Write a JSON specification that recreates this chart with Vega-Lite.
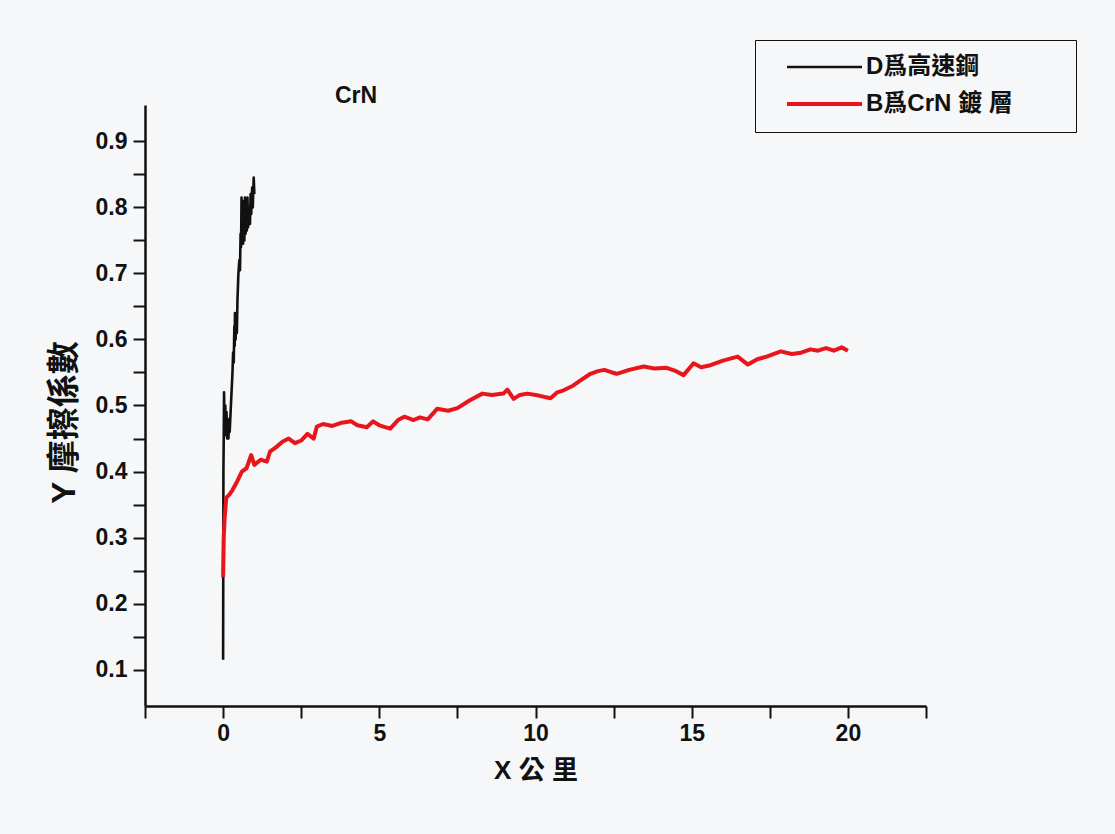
{
  "$schema": "https://vega.github.io/schema/vega-lite/v6.json",
  "width": 781,
  "height": 601,
  "autosize": {"type": "none"},
  "padding": {"left": 145, "top": 105, "right": 189, "bottom": 128},
  "background": "#f6f7f9",
  "title": {
    "text": "CrN",
    "anchor": "start",
    "frame": "group",
    "dx": 190,
    "dy": 72,
    "offset": 4,
    "font": "Liberation Sans",
    "fontSize": 23,
    "fontWeight": "bold",
    "color": "#111111"
  },
  "config": {
    "view": {"stroke": null},
    "font": "Liberation Sans"
  },
  "datasets": {
    "d": [
      {"x": 0.0, "y": 0.115, "series": "D爲高速鋼"},
      {"x": 0.005, "y": 0.25, "series": "D爲高速鋼"},
      {"x": 0.01, "y": 0.40, "series": "D爲高速鋼"},
      {"x": 0.02, "y": 0.45, "series": "D爲高速鋼"},
      {"x": 0.03, "y": 0.52, "series": "D爲高速鋼"},
      {"x": 0.05, "y": 0.46, "series": "D爲高速鋼"},
      {"x": 0.07, "y": 0.50, "series": "D爲高速鋼"},
      {"x": 0.09, "y": 0.455, "series": "D爲高速鋼"},
      {"x": 0.11, "y": 0.49, "series": "D爲高速鋼"},
      {"x": 0.13, "y": 0.45, "series": "D爲高速鋼"},
      {"x": 0.15, "y": 0.48, "series": "D爲高速鋼"},
      {"x": 0.17, "y": 0.45, "series": "D爲高速鋼"},
      {"x": 0.19, "y": 0.47, "series": "D爲高速鋼"},
      {"x": 0.21, "y": 0.46, "series": "D爲高速鋼"},
      {"x": 0.24, "y": 0.49, "series": "D爲高速鋼"},
      {"x": 0.27, "y": 0.52, "series": "D爲高速鋼"},
      {"x": 0.30, "y": 0.55, "series": "D爲高速鋼"},
      {"x": 0.32, "y": 0.58, "series": "D爲高速鋼"},
      {"x": 0.34, "y": 0.565, "series": "D爲高速鋼"},
      {"x": 0.36, "y": 0.62, "series": "D爲高速鋼"},
      {"x": 0.37, "y": 0.59, "series": "D爲高速鋼"},
      {"x": 0.38, "y": 0.64, "series": "D爲高速鋼"},
      {"x": 0.40, "y": 0.60, "series": "D爲高速鋼"},
      {"x": 0.42, "y": 0.635, "series": "D爲高速鋼"},
      {"x": 0.44, "y": 0.61, "series": "D爲高速鋼"},
      {"x": 0.46, "y": 0.66, "series": "D爲高速鋼"},
      {"x": 0.49, "y": 0.70, "series": "D爲高速鋼"},
      {"x": 0.52, "y": 0.72, "series": "D爲高速鋼"},
      {"x": 0.54, "y": 0.705, "series": "D爲高速鋼"},
      {"x": 0.56, "y": 0.76, "series": "D爲高速鋼"},
      {"x": 0.575, "y": 0.74, "series": "D爲高速鋼"},
      {"x": 0.59, "y": 0.815, "series": "D爲高速鋼"},
      {"x": 0.60, "y": 0.75, "series": "D爲高速鋼"},
      {"x": 0.62, "y": 0.81, "series": "D爲高速鋼"},
      {"x": 0.64, "y": 0.745, "series": "D爲高速鋼"},
      {"x": 0.66, "y": 0.80, "series": "D爲高速鋼"},
      {"x": 0.68, "y": 0.75, "series": "D爲高速鋼"},
      {"x": 0.70, "y": 0.815, "series": "D爲高速鋼"},
      {"x": 0.72, "y": 0.76, "series": "D爲高速鋼"},
      {"x": 0.74, "y": 0.80, "series": "D爲高速鋼"},
      {"x": 0.76, "y": 0.765, "series": "D爲高速鋼"},
      {"x": 0.78, "y": 0.815, "series": "D爲高速鋼"},
      {"x": 0.80, "y": 0.77, "series": "D爲高速鋼"},
      {"x": 0.83, "y": 0.80, "series": "D爲高速鋼"},
      {"x": 0.86, "y": 0.775, "series": "D爲高速鋼"},
      {"x": 0.88, "y": 0.82, "series": "D爲高速鋼"},
      {"x": 0.90, "y": 0.79, "series": "D爲高速鋼"},
      {"x": 0.93, "y": 0.83, "series": "D爲高速鋼"},
      {"x": 0.95, "y": 0.80, "series": "D爲高速鋼"},
      {"x": 0.98, "y": 0.845, "series": "D爲高速鋼"},
      {"x": 1.0, "y": 0.82, "series": "D爲高速鋼"},
      {"x": 0.0, "y": 0.24, "series": "B爲CrN 鍍 層"},
      {"x": 0.02, "y": 0.30, "series": "B爲CrN 鍍 層"},
      {"x": 0.05, "y": 0.33, "series": "B爲CrN 鍍 層"},
      {"x": 0.1, "y": 0.36, "series": "B爲CrN 鍍 層"},
      {"x": 0.2, "y": 0.365, "series": "B爲CrN 鍍 層"},
      {"x": 0.3, "y": 0.372, "series": "B爲CrN 鍍 層"},
      {"x": 0.45, "y": 0.385, "series": "B爲CrN 鍍 層"},
      {"x": 0.6, "y": 0.40, "series": "B爲CrN 鍍 層"},
      {"x": 0.75, "y": 0.405, "series": "B爲CrN 鍍 層"},
      {"x": 0.9, "y": 0.425, "series": "B爲CrN 鍍 層"},
      {"x": 1.0, "y": 0.41, "series": "B爲CrN 鍍 層"},
      {"x": 1.2, "y": 0.418, "series": "B爲CrN 鍍 層"},
      {"x": 1.4, "y": 0.415, "series": "B爲CrN 鍍 層"},
      {"x": 1.5, "y": 0.43, "series": "B爲CrN 鍍 層"},
      {"x": 1.7, "y": 0.437, "series": "B爲CrN 鍍 層"},
      {"x": 1.9, "y": 0.445, "series": "B爲CrN 鍍 層"},
      {"x": 2.1, "y": 0.45, "series": "B爲CrN 鍍 層"},
      {"x": 2.3, "y": 0.443, "series": "B爲CrN 鍍 層"},
      {"x": 2.5, "y": 0.447, "series": "B爲CrN 鍍 層"},
      {"x": 2.7, "y": 0.457, "series": "B爲CrN 鍍 層"},
      {"x": 2.9, "y": 0.45, "series": "B爲CrN 鍍 層"},
      {"x": 3.0, "y": 0.468, "series": "B爲CrN 鍍 層"},
      {"x": 3.2, "y": 0.472, "series": "B爲CrN 鍍 層"},
      {"x": 3.5, "y": 0.469, "series": "B爲CrN 鍍 層"},
      {"x": 3.8, "y": 0.474, "series": "B爲CrN 鍍 層"},
      {"x": 4.1, "y": 0.476, "series": "B爲CrN 鍍 層"},
      {"x": 4.3, "y": 0.47, "series": "B爲CrN 鍍 層"},
      {"x": 4.6, "y": 0.467, "series": "B爲CrN 鍍 層"},
      {"x": 4.8, "y": 0.476, "series": "B爲CrN 鍍 層"},
      {"x": 5.0, "y": 0.47, "series": "B爲CrN 鍍 層"},
      {"x": 5.35, "y": 0.465, "series": "B爲CrN 鍍 層"},
      {"x": 5.6, "y": 0.478, "series": "B爲CrN 鍍 層"},
      {"x": 5.8, "y": 0.483, "series": "B爲CrN 鍍 層"},
      {"x": 6.1, "y": 0.478, "series": "B爲CrN 鍍 層"},
      {"x": 6.3, "y": 0.482, "series": "B爲CrN 鍍 層"},
      {"x": 6.55, "y": 0.479, "series": "B爲CrN 鍍 層"},
      {"x": 6.85, "y": 0.495, "series": "B爲CrN 鍍 層"},
      {"x": 7.2, "y": 0.492, "series": "B爲CrN 鍍 層"},
      {"x": 7.5, "y": 0.496, "series": "B爲CrN 鍍 層"},
      {"x": 7.9, "y": 0.508, "series": "B爲CrN 鍍 層"},
      {"x": 8.3, "y": 0.518, "series": "B爲CrN 鍍 層"},
      {"x": 8.6, "y": 0.516, "series": "B爲CrN 鍍 層"},
      {"x": 8.97, "y": 0.518, "series": "B爲CrN 鍍 層"},
      {"x": 9.1, "y": 0.524, "series": "B爲CrN 鍍 層"},
      {"x": 9.3, "y": 0.51, "series": "B爲CrN 鍍 層"},
      {"x": 9.5, "y": 0.516, "series": "B爲CrN 鍍 層"},
      {"x": 9.74, "y": 0.518, "series": "B爲CrN 鍍 層"},
      {"x": 10.1, "y": 0.515, "series": "B爲CrN 鍍 層"},
      {"x": 10.48, "y": 0.511, "series": "B爲CrN 鍍 層"},
      {"x": 10.7, "y": 0.52, "series": "B爲CrN 鍍 層"},
      {"x": 10.9, "y": 0.523, "series": "B爲CrN 鍍 層"},
      {"x": 11.2, "y": 0.53, "series": "B爲CrN 鍍 層"},
      {"x": 11.5, "y": 0.54, "series": "B爲CrN 鍍 層"},
      {"x": 11.76, "y": 0.548, "series": "B爲CrN 鍍 層"},
      {"x": 12.0, "y": 0.552, "series": "B爲CrN 鍍 層"},
      {"x": 12.2, "y": 0.554, "series": "B爲CrN 鍍 層"},
      {"x": 12.45, "y": 0.55, "series": "B爲CrN 鍍 層"},
      {"x": 12.6, "y": 0.548, "series": "B爲CrN 鍍 層"},
      {"x": 13.0, "y": 0.554, "series": "B爲CrN 鍍 層"},
      {"x": 13.46, "y": 0.559, "series": "B爲CrN 鍍 層"},
      {"x": 13.8, "y": 0.556, "series": "B爲CrN 鍍 層"},
      {"x": 14.2, "y": 0.557, "series": "B爲CrN 鍍 層"},
      {"x": 14.5, "y": 0.552, "series": "B爲CrN 鍍 層"},
      {"x": 14.74, "y": 0.546, "series": "B爲CrN 鍍 層"},
      {"x": 15.06, "y": 0.564, "series": "B爲CrN 鍍 層"},
      {"x": 15.3, "y": 0.558, "series": "B爲CrN 鍍 層"},
      {"x": 15.6, "y": 0.561, "series": "B爲CrN 鍍 層"},
      {"x": 16.0, "y": 0.568, "series": "B爲CrN 鍍 層"},
      {"x": 16.47, "y": 0.574, "series": "B爲CrN 鍍 層"},
      {"x": 16.8, "y": 0.562, "series": "B爲CrN 鍍 層"},
      {"x": 17.1, "y": 0.57, "series": "B爲CrN 鍍 層"},
      {"x": 17.4, "y": 0.574, "series": "B爲CrN 鍍 層"},
      {"x": 17.85, "y": 0.582, "series": "B爲CrN 鍍 層"},
      {"x": 18.2, "y": 0.578, "series": "B爲CrN 鍍 層"},
      {"x": 18.5, "y": 0.58, "series": "B爲CrN 鍍 層"},
      {"x": 18.8, "y": 0.585, "series": "B爲CrN 鍍 層"},
      {"x": 19.04, "y": 0.583, "series": "B爲CrN 鍍 層"},
      {"x": 19.3, "y": 0.587, "series": "B爲CrN 鍍 層"},
      {"x": 19.55, "y": 0.583, "series": "B爲CrN 鍍 層"},
      {"x": 19.8, "y": 0.588, "series": "B爲CrN 鍍 層"},
      {"x": 20.0, "y": 0.583, "series": "B爲CrN 鍍 層"}
    ]
  },
  "data": {"name": "d"},
  "mark": {"type": "line", "strokeJoin": "round"},
  "encoding": {
    "x": {
      "field": "x",
      "type": "quantitative",
      "scale": {"domain": [-2.5, 22.5], "nice": false, "zero": false},
      "axis": {
        "title": "X 公 里",
        "titleFont": "Liberation Sans, Noto Sans CJK TC",
        "titleFontSize": 26,
        "titleFontWeight": "bold",
        "titleColor": "#111111",
        "titlePadding": 12,
        "values": [-2.5, 0, 2.5, 5, 7.5, 10, 12.5, 15, 17.5, 20, 22.5],
        "labelExpr": "datum.value % 5 == 0 ? format(datum.value, 'd') : ''",
        "labelFont": "Liberation Sans",
        "labelFontSize": 23,
        "labelFontWeight": "bold",
        "labelColor": "#111111",
        "labelPadding": 4,
        "labelFlush": false,
        "labelOverlap": false,
        "tickSize": 12,
        "tickWidth": 2,
        "tickColor": "#111111",
        "domainColor": "#111111",
        "domainWidth": 2.5,
        "grid": false,
        "encode": {"ticks": {"update": {"y2": {"signal": "datum.value % 5 == 0 ? 12 : 6"}}}}
      }
    },
    "y": {
      "field": "y",
      "type": "quantitative",
      "scale": {"domain": [0.045, 0.955], "nice": false, "zero": false},
      "axis": {
        "title": "Y 摩擦係數",
        "titleFont": "Liberation Sans, Noto Sans CJK TC",
        "titleFontSize": 33,
        "titleFontWeight": "bold",
        "titleColor": "#111111",
        "titlePadding": 14,
        "titleY": 317,
        "values": [0.1, 0.15, 0.2, 0.25, 0.3, 0.35, 0.4, 0.45, 0.5, 0.55, 0.6, 0.65, 0.7, 0.75, 0.8, 0.85, 0.9],
        "labelExpr": "abs(datum.value*10 - round(datum.value*10)) < 0.001 ? format(datum.value, '.1f') : ''",
        "labelFont": "Liberation Sans",
        "labelFontSize": 23,
        "labelFontWeight": "bold",
        "labelColor": "#111111",
        "labelPadding": 6,
        "labelFlush": false,
        "labelOverlap": false,
        "tickSize": 12,
        "tickWidth": 2,
        "tickColor": "#111111",
        "domainColor": "#111111",
        "domainWidth": 2.5,
        "grid": false,
        "encode": {"ticks": {"update": {"x2": {"signal": "abs(datum.value*10 - round(datum.value*10)) < 0.001 ? -12 : -5"}}}}
      }
    },
    "color": {
      "field": "series",
      "type": "nominal",
      "scale": {"domain": ["D爲高速鋼", "B爲CrN 鍍 層"], "range": ["#111111", "#e8151b"]},
      "legend": {
        "title": null,
        "orient": "none",
        "legendX": 610,
        "legendY": -65,
        "direction": "vertical",
        "symbolType": "stroke",
        "symbolSize": 5625,
        "symbolStrokeWidth": 2.5,
        "symbolOffset": 14,
        "clipHeight": 22,
        "rowPadding": 13,
        "padding": 16,
        "labelOffset": 2,
        "labelFont": "Liberation Sans, Noto Sans CJK TC",
        "labelFontSize": 24,
        "labelFontWeight": "bold",
        "labelColor": "#111111",
        "labelLimit": 400,
        "labelExpr": "datum.label + '\u00a0\u00a0\u00a0\u00a0\u00a0\u00a0\u00a0\u200b'",
        "strokeColor": "#111111",
        "fillColor": "#f6f7f9"
      }
    },
    "strokeWidth": {
      "field": "series",
      "type": "nominal",
      "scale": {"domain": ["D爲高速鋼", "B爲CrN 鍍 層"], "range": [2.6, 4]},
      "legend": null
    }
  }
}
